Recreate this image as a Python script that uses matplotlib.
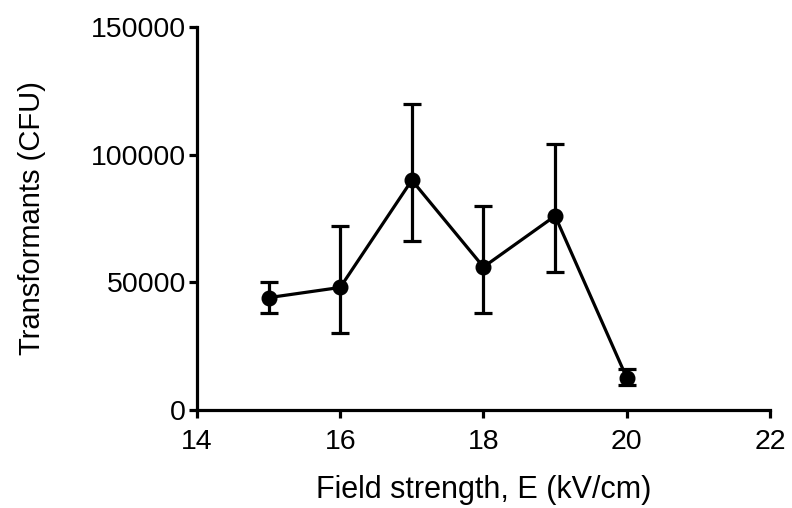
import numpy as np
import matplotlib.pyplot as plt

plt.rcParams['font.family'] = ['Liberation Sans', 'DejaVu Sans']

field = [15, 16, 17, 18, 19, 20]
cfu = [44000, 48000, 90000, 56000, 76000, 12600]
err_low = [38000, 30000, 66000, 38000, 54000, 9800]
err_high = [50000, 72000, 120000, 80000, 104000, 16200]

cfu_arr = np.array(cfu)
yerr = [cfu_arr - np.array(err_low), np.array(err_high) - cfu_arr]

fig = plt.figure(figsize=(7.92, 5.08), dpi=100)
ax = fig.add_axes([0.2487, 0.1929, 0.9722 - 0.2487, 0.9469 - 0.1929])

ax.errorbar(field, cfu, yerr=yerr, color='black', lw=2.3, marker='o',
            markersize=10.5, capsize=6.5, capthick=2.3, elinewidth=2.3)

ax.set_xlim(14, 22)
ax.set_ylim(0, 150000)
ax.set_xticks([14, 16, 18, 20, 22])
ax.set_yticks([0, 50000, 100000, 150000])
ax.set_yticklabels(['0', '50000', '100000', '150000'])

for s in ['top', 'right']:
    ax.spines[s].set_visible(False)
for s in ['left', 'bottom']:
    ax.spines[s].set_linewidth(2.3)
ax.tick_params(width=2.3, length=6, labelsize=20.5)
ax.tick_params(axis='x', pad=8)
ax.tick_params(axis='y', pad=2)

ax.set_xlabel('Field strength, E (kV/cm)', fontsize=22, labelpad=14)
ax.set_ylabel('Transformants (CFU)', fontsize=21, labelpad=32)

plt.savefig('out.png', dpi=100)
